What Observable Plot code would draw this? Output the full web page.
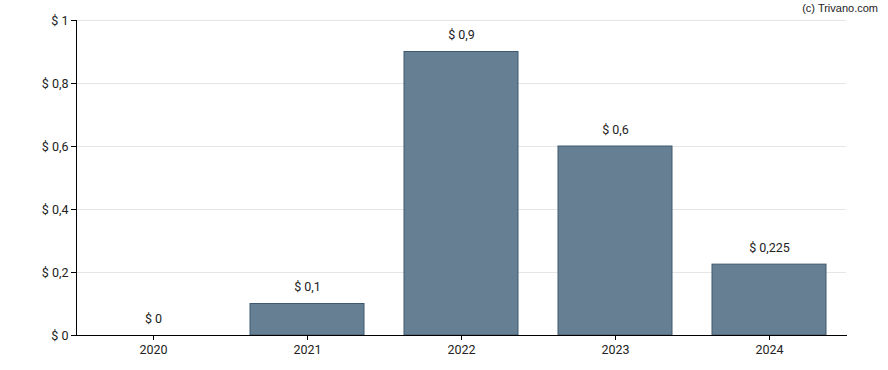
<!DOCTYPE html>
<html><head><meta charset="utf-8">
<script src="https://cdn.jsdelivr.net/npm/d3@7"></script>
<script src="https://cdn.jsdelivr.net/npm/@observablehq/plot@0.6"></script>
<style>
body{margin:0;background:#fff;}
#wrap{position:relative;width:888px;height:370px;}
#credit{position:absolute;top:2px;right:10px;font-family:"Liberation Sans",Arial,sans-serif;font-size:11px;color:#222;}
</style>
</head><body>
<div id="wrap"><div id="credit">(c) Trivano.com</div></div>
<script>
const years = ["2020","2021","2022","2023","2024"];
const values = [0, 0.1, 0.9, 0.6, 0.225];
const valueLabels = ["$ 0","$ 0,1","$ 0,9","$ 0,6","$ 0,225"];
const yTicks = [0, 0.2, 0.4, 0.6, 0.8, 1];

const data = years.map((y,i)=>({year:y, value:values[i], label:valueLabels[i]}));
const fmt = v => "$ " + String(v).replace(".", ",");

const chart = Plot.plot({
  width: 888, height: 370,
  marginLeft: 76, marginRight: 42, marginTop: 20, marginBottom: 35,
  style: {fontFamily: "Roboto, sans-serif", fontSize: "12.5px", color: "#222", background: "#fff"},
  x: {domain: years, paddingInner: 0.26, paddingOuter: 0.13, label: null},
  y: {domain: [0, 1], label: null},
  marks: [
    Plot.gridY(yTicks, {stroke: "#e6e6e6", strokeOpacity: 1}),
    Plot.barY(data, {x: "year", y: "value", fill: "#667f93", stroke: "#3f5a70", strokeWidth: 1}),
    Plot.text(data, {x: "year", y: "value", text: "label", dy: -17, fill: "#222", fontSize: 12.5}),
    Plot.frame({anchor: "bottom", stroke: "#000", strokeOpacity: 1}),
    Plot.frame({anchor: "left", stroke: "#000", strokeOpacity: 1}),
    Plot.axisX({tickSize: 5, tickPadding: 5, stroke: "#000"}),
    Plot.axisY(yTicks, {tickFormat: fmt, tickSize: 5, tickPadding: 3, stroke: "#000"})
  ]
});
document.getElementById("wrap").appendChild(chart);
</script>
</body></html>
